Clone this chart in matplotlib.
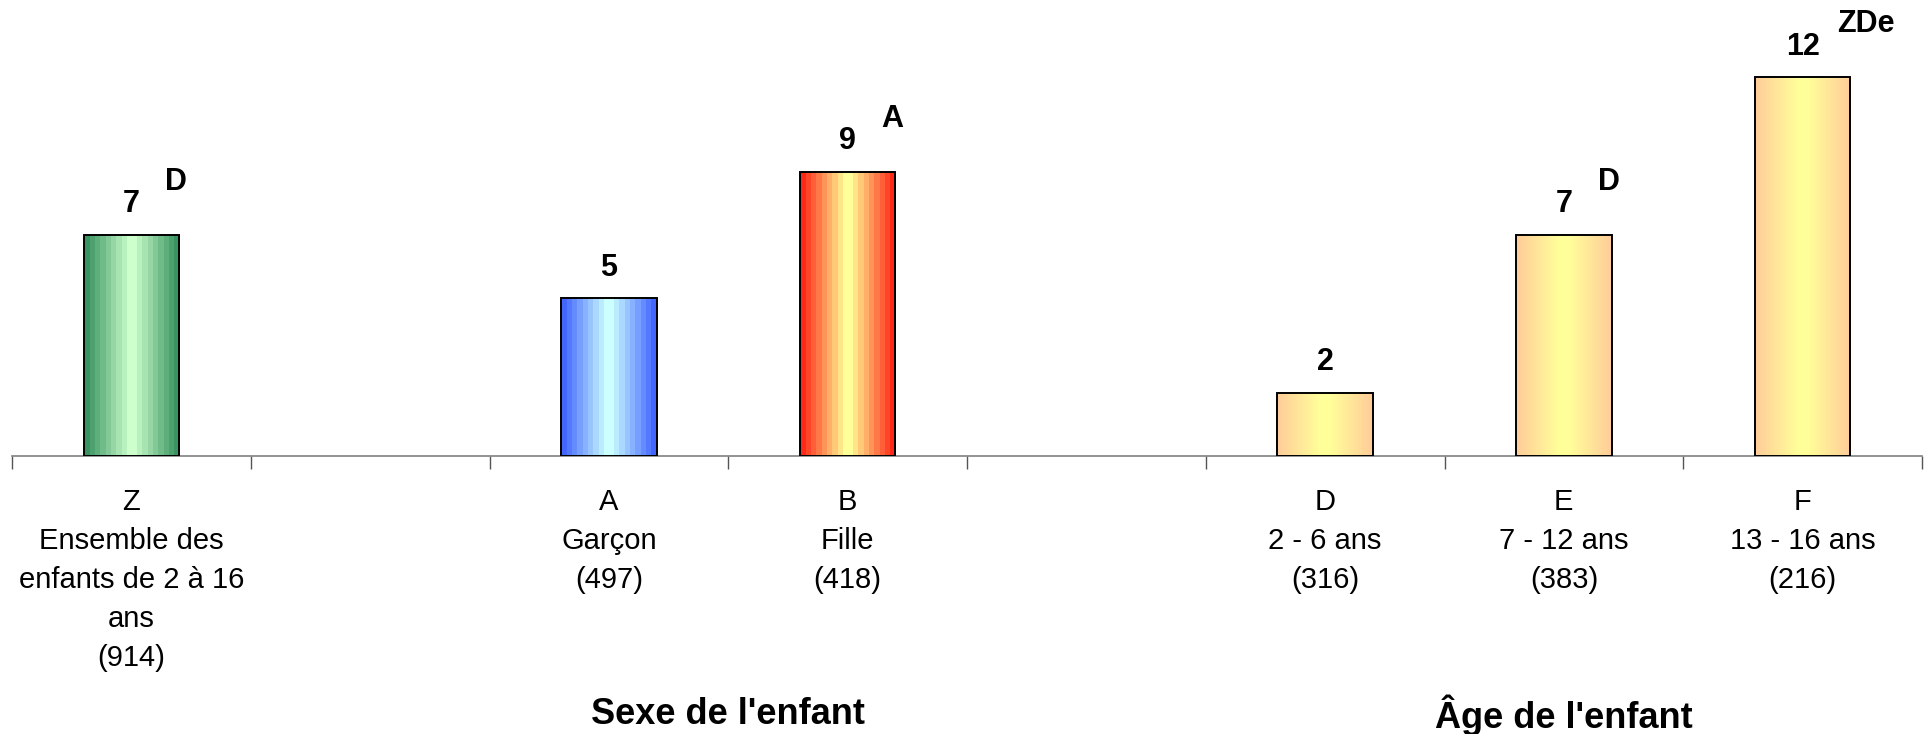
import numpy as np
import matplotlib.pyplot as plt
from matplotlib import transforms
from matplotlib.colors import to_rgb

plt.rcParams['font.family'] = ['Liberation Sans', 'DejaVu Sans']

# categories (empty strings are the gaps between groups)
codes = ['Z', '', 'A', 'B', '', 'D', 'E', 'F']
names = ['Ensemble des\nenfants de 2 à 16\nans', '', 'Garçon', 'Fille', '',
         '2 - 6 ans', '7 - 12 ans', '13 - 16 ans']
counts = [914, None, 497, 418, None, 316, 383, 216]
values = [7, np.nan, 5, 9, np.nan, 2, 7, 12]
signif = ['D', '', '', 'A', '', '', 'D', 'ZDe']

groups = ["Sexe de l'enfant", "Âge de l'enfant"]
group_members = [['A', 'B'], ['D', 'E', 'F']]

# (edge colour, centre colour, banding steps) per bar
fills = {'Z': ('#3a9462', '#ccffcc', 8),
         'A': ('#4466ff', '#ccffff', 8),
         'B': ('#ff2a18', '#ffff99', 8),
         'D': ('#ffcc99', '#ffff99', 0),
         'E': ('#ffcc99', '#ffff99', 0),
         'F': ('#ffcc99', '#ffff99', 0)}


def gradient_fill(ax, rect, edge, center, steps):
    x0, y0 = rect.get_x(), rect.get_y()
    w, h = rect.get_width(), rect.get_height()
    t = np.linspace(0, 1, 240)
    d = np.abs(t - 0.5) * 2
    d = np.clip((d - 0.1) / 0.9, 0, 1)
    if steps:
        d = np.ceil(d * steps) / steps
    e = np.array(to_rgb(edge))
    c = np.array(to_rgb(center))
    img = (c + (e - c) * d[:, None])[None, :, :]
    im = ax.imshow(img, extent=(x0, x0 + w, y0, y0 + h), aspect='auto',
                   interpolation='nearest', zorder=2)
    im.set_clip_path(rect)


fig = plt.figure(figsize=(19.32, 7.34), dpi=100)
ax = fig.add_axes([12 / 1932, 278 / 734, 1910 / 1932, 442 / 734])

x = np.arange(len(codes))
for i, v in enumerate(values):
    if np.isnan(v):
        continue
    bar = ax.bar(i, v, width=0.4, facecolor='none', edgecolor='black',
                 linewidth=1.4, zorder=3)[0]
    edge, center, steps = fills[codes[i]]
    gradient_fill(ax, bar, edge, center, steps)
    ax.annotate(f'{v:g}', (i, v), xytext=(0, 22), textcoords='offset points',
                ha='center', va='center', fontsize=22, fontweight='bold')
    if signif[i]:
        ax.annotate(signif[i], (i, v), xytext=(24.5, 38), textcoords='offset points',
                    ha='left', va='center', fontsize=22, fontweight='bold')

labels = []
for c, n, k in zip(codes, names, counts):
    labels.append(f'{c}\n{n}\n({k})' if c else '')

ax.set_xlim(-0.5, len(codes) - 0.5)
ax.set_ylim(0, 14)
ax.set_xticks(x)
ax.set_xticklabels(labels, fontsize=21)
for lbl in ax.get_xticklabels():
    lbl.set_linespacing(1.5)
ax.set_xticks(np.arange(-0.5, len(codes), 1), minor=True)
ax.tick_params(axis='x', which='major', length=0, pad=23)
ax.tick_params(axis='x', which='minor', length=9, width=1, color='#555555')
ax.set_yticks([])
for s in ['left', 'right', 'top']:
    ax.spines[s].set_visible(False)
ax.spines['bottom'].set_color('#808080')
ax.spines['bottom'].set_linewidth(1.2)

trans = transforms.blended_transform_factory(ax.transData, fig.transFigure)
for g, members in zip(groups, group_members):
    gx = np.mean([codes.index(m) for m in members])
    ax.text(gx, 0.026, g, transform=trans, ha='center', va='center',
            fontsize=26, fontweight='bold')

fig.savefig('out.png', dpi=100)
